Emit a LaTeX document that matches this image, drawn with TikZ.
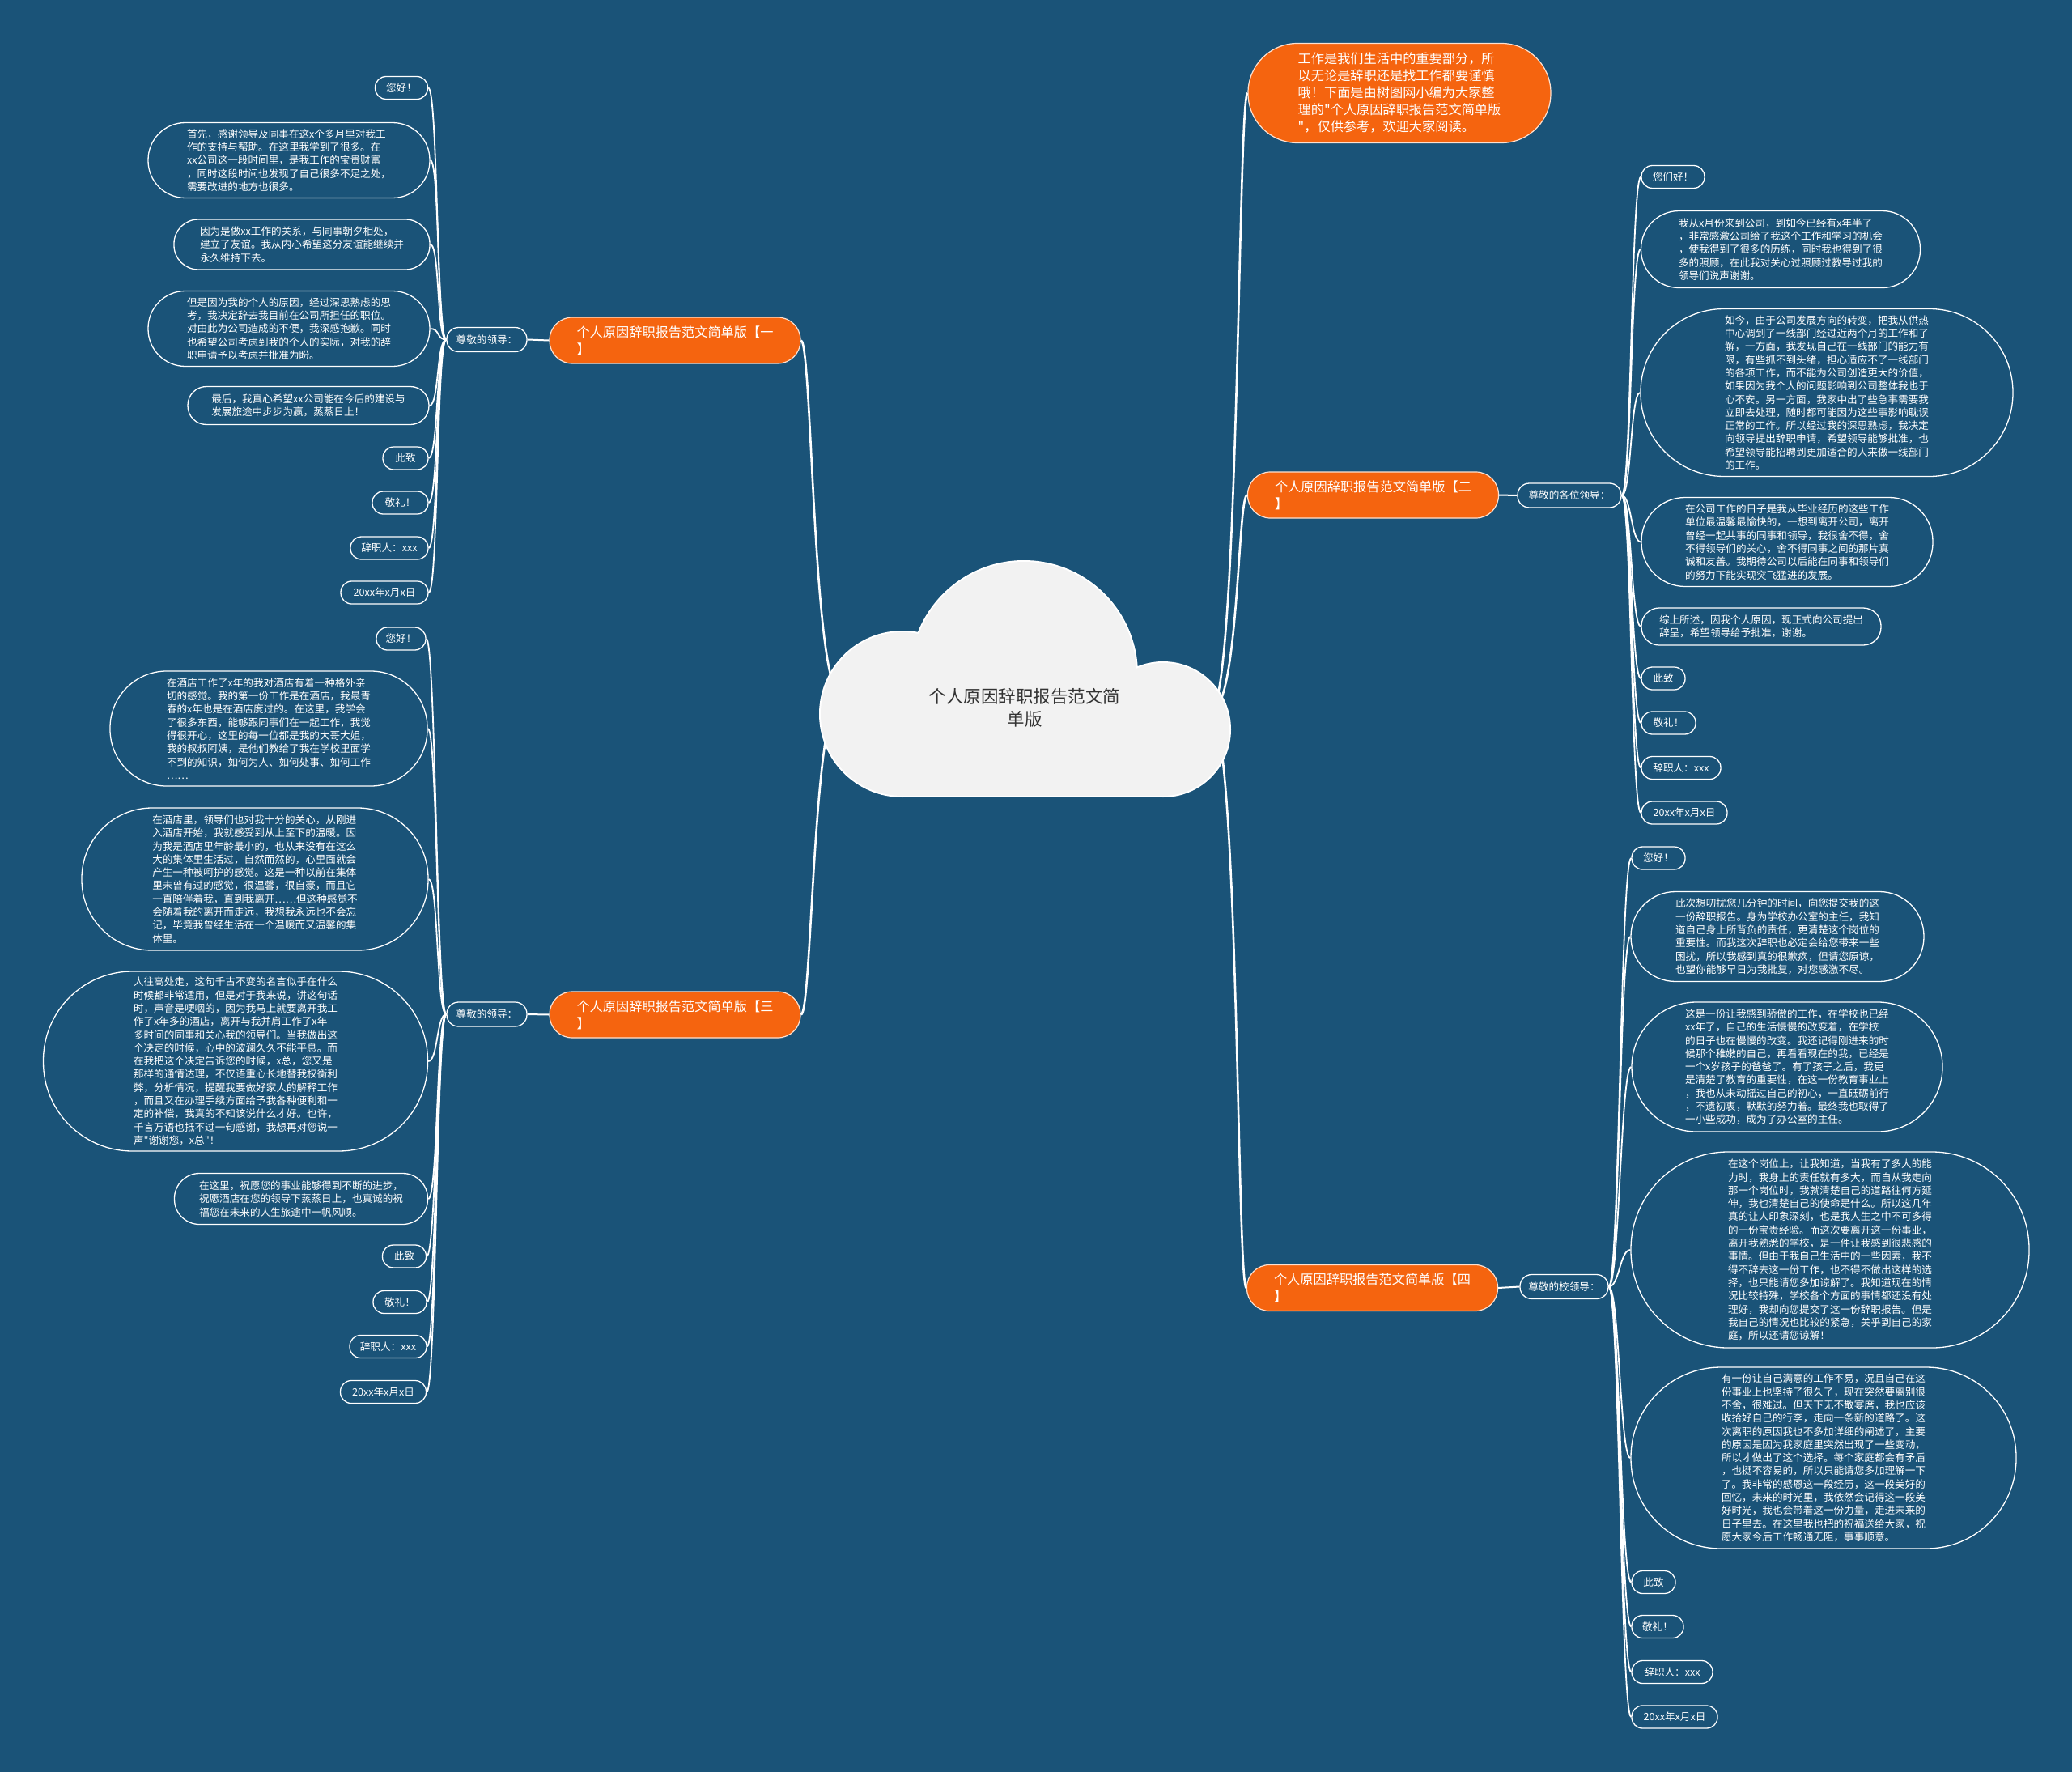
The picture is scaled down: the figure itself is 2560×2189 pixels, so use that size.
\documentclass[tikz,border=0pt]{standalone}
\usepackage{fontspec}
\newfontfamily\cjk{Noto Sans CJK SC}
\definecolor{bg}{HTML}{1A5378}
\definecolor{org}{HTML}{F5640F}
\definecolor{cloudc}{HTML}{F2F2F2}
\definecolor{ctext}{HTML}{333333}
\newcommand{\leafsize}{\cjk\fontsize{12.6pt}{16.3pt}\selectfont}
\newcommand{\brsize}{\cjk\fontsize{16.2pt}{21pt}\selectfont}
\newcommand{\censize}{\cjk\fontsize{21.5pt}{28pt}\selectfont}
\tikzset{
 leaf/.style={draw=white, line width=1.3pt, fill=bg, text=white, font=\leafsize, align=left, inner sep=0pt},
 small/.style={leaf, minimum height=28pt, rounded corners=13.5pt},
 branch/.style={draw=white!80!org, line width=1.2pt, fill=org, text=white, font=\brsize, align=left, inner sep=0pt, minimum height=57pt, minimum width=310pt, rounded corners=28pt},
 subn/.style={leaf, minimum height=30pt, rounded corners=14.5pt},
 conn/.style={draw=white, line width=1.8pt},
 mainconn/.style={draw=white, line width=2.6pt},
 cloudline/.style={draw=white, line width=4pt},
 cloudfill/.style={fill=cloudc},
}
\begin{document}
\begin{tikzpicture}[x=1pt,y=-1pt]
\fill[bg] (0,0) rectangle (2560,2189);
\useasboundingbox (0,0) rectangle (2560,2189);

% ---------- top note ----------
\node[branch, minimum width=374pt, minimum height=123pt, rounded corners=61pt] (tn) at (1729,115)
 {工作是我们生活中的重要部分，所\\以无论是辞职还是找工作都要谨慎\\哦！下面是由树图网小编为大家整\\理的\char"22 个人原因辞职报告范文简单版\\\char"22 ，仅供参考，欢迎大家阅读。};

% ---------- branches ----------
\node[branch] (b1) at (834,420.5) {个人原因辞职报告范文简单版【一\\】};
\node[branch] (b3) at (834,1253.5) {个人原因辞职报告范文简单版【三\\】};
\node[branch] (b2) at (1696.5,611.5) {个人原因辞职报告范文简单版【二\\】};
\node[branch] (b4) at (1695.5,1591) {个人原因辞职报告范文简单版【四\\】};

\node[subn, minimum width=99pt] (s1) at (601.5,419.5) {尊敬的领导：};
\node[subn, minimum width=99pt] (s3) at (601.5,1253) {尊敬的领导：};
\node[subn, minimum width=128pt] (s2) at (1939,612) {尊敬的各位领导：};
\node[subn, minimum width=109pt] (s4) at (1932.5,1589.5) {尊敬的校领导：};

% ---------- branch 1 leaves ----------
\node[small, minimum width=65pt] (l1a) at (496,108.5) {您好！};
\node[leaf, minimum width=348pt, minimum height=93pt, rounded corners=46pt] (l1b) at (357,198)
 {首先，感谢领导及同事在这x个多月里对我工\\作的支持与帮助。在这里我学到了很多。在\\xx公司这一段时间里，是我工作的宝贵财富\\，同时这段时间也发现了自己很多不足之处，\\需要改进的地方也很多。};
\node[leaf, minimum width=316pt, minimum height=62pt, rounded corners=30pt] (l1c) at (373,302)
 {因为是做xx工作的关系，与同事朝夕相处，\\建立了友谊。我从内心希望这分友谊能继续并\\永久维持下去。};
\node[leaf, minimum width=348pt, minimum height=93pt, rounded corners=46pt] (l1d) at (357,406)
 {但是因为我的个人的原因，经过深思熟虑的思\\考，我决定辞去我目前在公司所担任的职位。\\对由此为公司造成的不便，我深感抱歉。同时\\也希望公司考虑到我的个人的实际，对我的辞\\职申请予以考虑并批准为盼。};
\node[leaf, minimum width=298pt, minimum height=47pt, rounded corners=23pt] (l1e) at (381,501)
 {最后，我真心希望xx公司能在今后的建设与\\发展旅途中步步为赢，蒸蒸日上！};
\node[small, minimum width=56pt] (l1f) at (501,566) {此致};
\node[small, minimum width=69pt] (l1g) at (494.5,621) {敬礼！};
\node[small, minimum width=96pt] (l1h) at (481,677) {辞职人：xxx};
\node[small, minimum width=108pt] (l1i) at (475,732) {20xx年x月x日};

% ---------- branch 3 leaves ----------
\node[small, minimum width=61pt] (l3a) at (495.5,789) {您好！};
\node[leaf, minimum width=392pt, minimum height=142pt, rounded corners=70pt] (l3b) at (332,900)
 {在酒店工作了x年的我对酒店有着一种格外亲\\切的感觉。我的第一份工作是在酒店，我最青\\春的x年也是在酒店度过的。在这里，我学会\\了很多东西，能够跟同事们在一起工作，我觉\\得很开心，这里的每一位都是我的大哥大姐，\\我的叔叔阿姨，是他们教给了我在学校里面学\\不到的知识，如何为人、如何处事、如何工作\\……};
\node[leaf, minimum width=428pt, minimum height=176pt, rounded corners=87pt] (l3c) at (315,1086)
 {在酒店里，领导们也对我十分的关心，从刚进\\入酒店开始，我就感受到从上至下的温暖。因\\为我是酒店里年龄最小的，也从来没有在这么\\大的集体里生活过，自然而然的，心里面就会\\产生一种被呵护的感觉。这是一种以前在集体\\里未曾有过的感觉，很温馨，很自豪，而且它\\一直陪伴着我，直到我离开……但这种感觉不\\会随着我的离开而走远，我想我永远也不会忘\\记，毕竟我曾经生活在一个温暖而又温馨的集\\体里。};
\node[leaf, minimum width=475pt, minimum height=222pt, rounded corners=110pt] (l3d) at (291,1311)
 {人往高处走，这句千古不变的名言似乎在什么\\时候都非常适用，但是对于我来说，讲这句话\\时，声音是哽咽的，因为我马上就要离开我工\\作了x年多的酒店，离开与我并肩工作了x年\\多时间的同事和关心我的领导们。当我做出这\\个决定的时候，心中的波澜久久不能平息。而\\在我把这个决定告诉您的时候，x总，您又是\\那样的通情达理，不仅语重心长地替我权衡利\\弊，分析情况，提醒我要做好家人的解释工作\\，而且又在办理手续方面给予我各种便利和一\\定的补偿，我真的不知该说什么才好。也许，\\千言万语也抵不过一句感谢，我想再对您说一\\声\char"22 谢谢您，x总\char"22 ！};
\node[leaf, minimum width=313pt, minimum height=63pt, rounded corners=31pt] (l3e) at (372,1481)
 {在这里，祝愿您的事业能够得到不断的进步，\\祝愿酒店在您的领导下蒸蒸日上，也真诚的祝\\福您在未来的人生旅途中一帆风顺。};
\node[small, minimum width=54pt] (l3f) at (499.5,1552) {此致};
\node[small, minimum width=66pt] (l3g) at (494,1608.5) {敬礼！};
\node[small, minimum width=95pt] (l3h) at (479.5,1663.5) {辞职人：xxx};
\node[small, minimum width=106pt] (l3i) at (473.5,1719.5) {20xx年x月x日};

% ---------- branch 2 leaves ----------
\node[small, minimum width=78pt] (r2a) at (2067,218.5) {您们好！};
\node[leaf, minimum width=345pt, minimum height=95pt, rounded corners=47pt] (r2b) at (2200,308)
 {我从x月份来到公司，到如今已经有x年半了\\，非常感激公司给了我这个工作和学习的机会\\，使我得到了很多的历练，同时我也得到了很\\多的照顾，在此我对关心过照顾过教导过我的\\领导们说声谢谢。};
\node[leaf, minimum width=460pt, minimum height=207pt, rounded corners=103pt] (r2c) at (2257,485)
 {如今，由于公司发展方向的转变，把我从供热\\中心调到了一线部门经过近两个月的工作和了\\解，一方面，我发现自己在一线部门的能力有\\限，有些抓不到头绪，担心适应不了一线部门\\的各项工作，而不能为公司创造更大的价值，\\如果因为我个人的问题影响到公司整体我也于\\心不安。另一方面，我家中出了些急事需要我\\立即去处理，随时都可能因为这些事影响耽误\\正常的工作。所以经过我的深思熟虑，我决定\\向领导提出辞职申请，希望领导能够批准，也\\希望领导能招聘到更加适合的人来做一线部门\\的工作。};
\node[leaf, minimum width=360pt, minimum height=110pt, rounded corners=54pt] (r2d) at (2208,669.5)
 {在公司工作的日子是我从毕业经历的这些工作\\单位最温馨最愉快的，一想到离开公司，离开\\曾经一起共事的同事和领导，我很舍不得，舍\\不得领导们的关心，舍不得同事之间的那片真\\诚和友善。我期待公司以后能在同事和领导们\\的努力下能实现突飞猛进的发展。};
\node[leaf, minimum width=296pt, minimum height=46pt, rounded corners=22pt] (r2e) at (2176,774)
 {综上所述，因我个人原因，现正式向公司提出\\辞呈，希望领导给予批准，谢谢。};
\node[small, minimum width=54pt] (r2f) at (2055,838) {此致};
\node[small, minimum width=67pt] (r2g) at (2061.5,893) {敬礼！};
\node[small, minimum width=98pt] (r2h) at (2077,948.5) {辞职人：xxx};
\node[small, minimum width=106pt] (r2i) at (2081,1004) {20xx年x月x日};

% ---------- branch 4 leaves ----------
\node[small, minimum width=66pt] (r4a) at (2049,1060) {您好！};
\node[leaf, minimum width=362pt, minimum height=111pt, rounded corners=55pt] (r4b) at (2196,1157)
 {此次想叨扰您几分钟的时间，向您提交我的这\\一份辞职报告。身为学校办公室的主任，我知\\道自己身上所背负的责任，更清楚这个岗位的\\重要性。而我这次辞职也必定会给您带来一些\\困扰，所以我感到真的很歉疚，但请您原谅，\\也望你能够早日为我批复，对您感激不尽。};
\node[leaf, minimum width=384pt, minimum height=160pt, rounded corners=80pt] (r4c) at (2208,1318)
 {这是一份让我感到骄傲的工作，在学校也已经\\xx年了，自己的生活慢慢的改变着，在学校\\的日子也在慢慢的改变。我还记得刚进来的时\\候那个稚嫩的自己，再看看现在的我，已经是\\一个x岁孩子的爸爸了。有了孩子之后，我更\\是清楚了教育的重要性，在这一份教育事业上\\，我也从未动摇过自己的初心，一直砥砺前行\\，不遗初衷，默默的努力着。最终我也取得了\\一小些成功，成为了办公室的主任。};
\node[leaf, minimum width=492pt, minimum height=242pt, rounded corners=120pt] (r4d) at (2261,1544)
 {在这个岗位上，让我知道，当我有了多大的能\\力时，我身上的责任就有多大，而自从我走向\\那一个岗位时，我就清楚自己的道路往何方延\\伸，我也清楚自己的使命是什么。所以这几年\\真的让人印象深刻，也是我人生之中不可多得\\的一份宝贵经验。而这次要离开这一份事业，\\离开我熟悉的学校，是一件让我感到很悲感的\\事情。但由于我自己生活中的一些因素，我不\\得不辞去这一份工作，也不得不做出这样的选\\择，也只能请您多加谅解了。我知道现在的情\\况比较特殊，学校各个方面的事情都还没有处\\理好，我却向您提交了这一份辞职报告。但是\\我自己的情况也比较的紧急，关乎到自己的家\\庭，所以还请您谅解！};
\node[leaf, minimum width=476pt, minimum height=224pt, rounded corners=111pt] (r4e) at (2253,1801)
 {有一份让自己满意的工作不易，况且自己在这\\份事业上也坚持了很久了，现在突然要离别很\\不舍，很难过。但天下无不散宴席，我也应该\\收拾好自己的行李，走向一条新的道路了。这\\次离职的原因我也不多加详细的阐述了，主要\\的原因是因为我家庭里突然出现了一些变动，\\所以才做出了这个选择。每个家庭都会有矛盾\\，也挺不容易的，所以只能请您多加理解一下\\了。我非常的感恩这一段经历，这一段美好的\\回忆，未来的时光里，我依然会记得这一段美\\好时光，我也会带着这一份力量，走进未来的\\日子里去。在这里我也把的祝福送给大家，祝\\愿大家今后工作畅通无阻，事事顺意。};
\node[small, minimum width=54pt] (r4f) at (2043,1954.5) {此致};
\node[small, minimum width=64pt] (r4g) at (2048,2009.5) {敬礼！};
\node[small, minimum width=100pt] (r4h) at (2066,2065.5) {辞职人：xxx};
\node[small, minimum width=106pt] (r4i) at (2069,2121) {20xx年x月x日};

% ---------- connectors ----------
\foreach \t in {l1a,l1b,l1c,l1d,l1e,l1f,l1g,l1h,l1i}
  \draw[conn] (s1.west) .. controls +(-12,0) and +(12,0) .. (\t.east);
\foreach \t in {l3a,l3b,l3c,l3d,l3e,l3f,l3g,l3h,l3i}
  \draw[conn] (s3.west) .. controls +(-12,0) and +(12,0) .. (\t.east);
\foreach \t in {r2a,r2b,r2c,r2d,r2e,r2f,r2g,r2h,r2i}
  \draw[conn] (s2.east) .. controls +(12,0) and +(-12,0) .. (\t.west);
\foreach \t in {r4a,r4b,r4c,r4d,r4e,r4f,r4g,r4h,r4i}
  \draw[conn] (s4.east) .. controls +(13,0) and +(-13,0) .. (\t.west);

\draw[conn, line width=2pt] (b1.west) -- (s1.east);
\draw[conn, line width=2pt] (b3.west) -- (s3.east);
\draw[conn, line width=2pt] (b2.east) -- (s2.west);
\draw[conn, line width=2pt] (b4.east) -- (s4.west);

\coordinate (cL) at (1040,860);
\coordinate (cR) at (1495,880);
\draw[mainconn] (cL) .. controls +(-36,0) and +(14,0) .. (b1.east);
\draw[mainconn] (cL) .. controls +(-36,0) and +(14,0) .. (b3.east);
\draw[mainconn] (cR) .. controls +(36,0) and +(-12,0) .. (tn.west);
\draw[mainconn] (cR) .. controls +(36,0) and +(-12,0) .. (b2.west);
\draw[mainconn] (cR) .. controls +(36,0) and +(-12,0) .. (b4.west);

% ---------- cloud ----------
\path[cloudline] (1265,833) circle[radius=139];
\path[cloudline] (1115,882) circle[radius=101];
\path[cloudline] (1437,901) circle[radius=82];
\path[cloudline] (1115,830) rectangle (1437,983);
\path[cloudfill] (1265,833) circle[radius=139];
\path[cloudfill] (1115,882) circle[radius=101];
\path[cloudfill] (1437,901) circle[radius=82];
\path[cloudfill] (1115,830) rectangle (1437,983);
\node[font=\censize, text=ctext, align=center] (center) at (1266,874) {个人原因辞职报告范文简\\单版};
\end{tikzpicture}
\end{document}
